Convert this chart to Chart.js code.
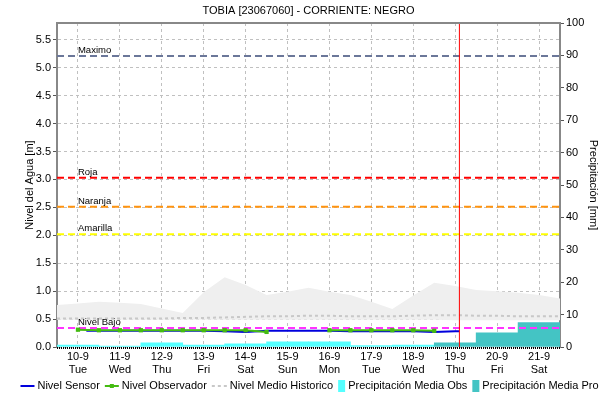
<!DOCTYPE html>
<html>
<head>
<meta charset="utf-8">
<script src="https://cdn.jsdelivr.net/npm/chart.js@4.4.1/dist/chart.umd.min.js"></script>
<style>
  html, body { margin: 0; padding: 0; background: #fff; }
  canvas { display: block; }
</style>
</head>
<body>
<canvas id="nivelChart" width="611" height="403"></canvas>
<script>
const stationTitle = 'TOBIA [23067060] - CORRIENTE: NEGRO';

// one entry per day, bars are centred on the day tick
const dayLabels = ['10-9', '11-9', '12-9', '13-9', '14-9', '15-9', '16-9', '17-9', '18-9', '19-9', '20-9', '21-9'];
const weekDays = ['Tue', 'Wed', 'Thu', 'Fri', 'Sat', 'Sun', 'Mon', 'Tue', 'Wed', 'Thu', 'Fri', 'Sat'];
const precipObs = [0.6, 0.3, 1.3, 0.6, 1.0, 1.6, 1.6, 0.4, 0.6, null, null, null];
const precipPro = [null, null, null, null, null, null, null, null, null, 1.3, 4.4, 7.5];

// historic band, every half day (x = day index)
const histDays = [-0.5, 0, 0.5, 1, 1.5, 2, 2.5, 3, 3.5, 4, 4.5, 5, 5.5, 6, 6.5, 7, 7.5, 8, 8.5, 9, 9.5, 10, 10.5, 11, 11.5];
const histMax = [0.75, 0.78, 0.81, 0.79, 0.77, 0.69, 0.61, 0.98, 1.25, 1.11, 0.93, 0.99, 1.06, 0.99, 0.93, 0.81, 0.68, 0.92, 1.15, 1.09, 1.02, 1.00, 0.97, 0.93, 0.87];
const histMin = [0.49, 0.49, 0.49, 0.49, 0.49, 0.49, 0.49, 0.49, 0.49, 0.49, 0.49, 0.49, 0.49, 0.49, 0.49, 0.49, 0.49, 0.49, 0.49, 0.48, 0.48, 0.48, 0.48, 0.48, 0.48];
const histMean = [0.51, 0.51, 0.51, 0.51, 0.51, 0.51, 0.52, 0.52, 0.53, 0.54, 0.55, 0.55, 0.56, 0.56, 0.55, 0.55, 0.55, 0.56, 0.57, 0.57, 0.56, 0.56, 0.55, 0.55, 0.55];

// observer readings, twice a day
const obsDays = [0, 0.5, 1, 1.5, 2, 2.5, 3, 3.5, 4, 4.5, 5, 5.5, 6, 6.5, 7, 7.5, 8, 8.5];
const obsLevel = [0.31, 0.30, 0.30, 0.30, 0.30, 0.30, 0.30, 0.30, 0.30, 0.27, null, null, 0.30, 0.30, 0.30, 0.30, 0.30, 0.29];

// sensor readings
const sensorDays = [0.2, 0.5, 1, 1.5, 2, 2.5, 3, 3.5, 4, 4.5, 5, 5.5, 6, 6.5, 7, 7.5, 8, 8.5, 9, 9.1];
const sensorLevel = [0.29, 0.29, 0.29, 0.29, 0.29, 0.29, 0.29, 0.28, 0.27, 0.29, 0.29, 0.29, 0.29, 0.28, 0.28, 0.28, 0.28, 0.27, 0.28, 0.28];

const thresholdNames = ['Maximo', 'Roja', 'Naranja', 'Amarilla', 'Nivel Bajo'];
const thresholdLevels = [5.21, 3.03, 2.51, 2.02, 0.34];
const thresholdColors = ['#6b7799', '#ff0000', '#ff9410', '#ffff00', '#ff33ff'];

const currentDay = 9.1;
const levelMax = 5.8;

const FONT = "'Liberation Sans', Arial, sans-serif";
Chart.defaults.font.family = FONT;
Chart.defaults.font.size = 11;
Chart.defaults.color = '#000';

const xMin = -0.5, xMax = dayLabels.length - 0.5;

function pairs(xs, ys) {
  return xs.map((x, i) => ({ x: x, y: ys[i] }));
}

const datasets = [];

// "now" marker
datasets.push({
  type: 'line', label: 'now', data: [{ x: currentDay, y: 0 }, { x: currentDay, y: levelMax }],
  borderColor: '#ff0000', borderWidth: 1, pointRadius: 0, yAxisID: 'y', xAxisID: 'x'
});
datasets.push({
  type: 'line', label: 'Nivel Observador', data: pairs(obsDays, obsLevel),
  borderColor: '#44bb11', backgroundColor: '#44bb11', borderWidth: 2,
  pointStyle: 'rect', pointRadius: 3, pointBorderWidth: 0, spanGaps: false, yAxisID: 'y', xAxisID: 'x'
});
datasets.push({
  type: 'line', label: 'Nivel Sensor', data: pairs(sensorDays, sensorLevel),
  borderColor: '#0000dd', borderWidth: 2, pointRadius: 0, yAxisID: 'y', xAxisID: 'x'
});
thresholdLevels.forEach((lvl, i) => {
  datasets.push({
    type: 'line', label: thresholdNames[i], data: [{ x: xMin, y: lvl }, { x: xMax, y: lvl }],
    borderColor: thresholdColors[i], borderWidth: 2, borderDash: [7, 4], pointRadius: 0,
    yAxisID: 'y', xAxisID: 'x'
  });
});
datasets.push({
  type: 'bar', label: 'Precipitación Media Pro', data: precipPro,
  backgroundColor: '#44c4c4', barPercentage: 1, categoryPercentage: 1, grouped: false,
  yAxisID: 'y2', xAxisID: 'xb'
});
datasets.push({
  type: 'bar', label: 'Precipitación Media Obs', data: precipObs,
  backgroundColor: '#55ffff', barPercentage: 1, categoryPercentage: 1, grouped: false,
  yAxisID: 'y2', xAxisID: 'xb'
});
datasets.push({
  type: 'line', label: 'Nivel Medio Historico', data: pairs(histDays, histMean),
  borderColor: '#c8c8c8', borderWidth: 2, borderDash: [3, 3], pointRadius: 0,
  yAxisID: 'y', xAxisID: 'x'
});
datasets.push({
  type: 'line', label: 'hist min', data: pairs(histDays, histMin),
  borderColor: 'rgba(0,0,0,0)', borderWidth: 0, pointRadius: 0, yAxisID: 'y', xAxisID: 'x'
});
datasets.push({
  type: 'line', label: 'hist max', data: pairs(histDays, histMax),
  borderColor: 'rgba(0,0,0,0)', borderWidth: 0, pointRadius: 0,
  backgroundColor: '#efefef', fill: '-1', yAxisID: 'y', xAxisID: 'x'
});

const legendItems = [
  { text: 'Nivel Sensor', kind: 'line', color: '#0000dd' },
  { text: 'Nivel Observador', kind: 'marker', color: '#44bb11' },
  { text: 'Nivel Medio Historico', kind: 'dots', color: '#c8c8c8' },
  { text: 'Precipitación Media Obs', kind: 'box', color: '#55ffff' },
  { text: 'Precipitación Media Pro', kind: 'box', color: '#44c4c4' }
];

const decorPlugin = {
  id: 'decor',
  afterDatasetsDraw(chart) {
    const { ctx, chartArea, scales } = chart;
    ctx.save();
    // threshold names above their lines
    ctx.font = '9.5px ' + FONT;
    ctx.fillStyle = '#000';
    ctx.textAlign = 'left';
    ctx.textBaseline = 'bottom';
    thresholdLevels.forEach((lvl, i) => {
      ctx.fillText(thresholdNames[i], scales.x.getPixelForValue(0), scales.y.getPixelForValue(lvl) - 1);
    });
    // frame: top edge and dotted bottom edge
    ctx.strokeStyle = '#888';
    ctx.lineWidth = 2;
    ctx.beginPath();
    ctx.moveTo(chartArea.left - 1, chartArea.top);
    ctx.lineTo(chartArea.right + 1, chartArea.top);
    ctx.stroke();
    ctx.strokeStyle = '#000';
    ctx.setLineDash([1, 1]);
    ctx.beginPath();
    ctx.moveTo(chartArea.left, chartArea.bottom + 1);
    ctx.lineTo(chartArea.right, chartArea.bottom + 1);
    ctx.stroke();
    ctx.restore();
  },
  afterDraw(chart) {
    const { ctx, chartArea, width } = chart;
    ctx.save();
    ctx.font = '11px ' + FONT;
    ctx.fillStyle = '#000';
    ctx.textAlign = 'center';
    ctx.textBaseline = 'middle';
    ctx.fillText(stationTitle, (chartArea.left + chartArea.right) / 2, 11);

    // legend row
    const symW = { line: 14, marker: 14, dots: 15, box: 7 };
    const gap = 5;
    let total = 0;
    legendItems.forEach(it => { total += symW[it.kind] + 3 + ctx.measureText(it.text).width + gap; });
    total -= gap;
    let x = (width - total) / 2 + 4;
    const y = 386;
    ctx.textAlign = 'left';
    legendItems.forEach(it => {
      const w = symW[it.kind];
      ctx.strokeStyle = it.color;
      ctx.fillStyle = it.color;
      if (it.kind === 'box') {
        ctx.fillRect(x, y - 6, w, 12);
      } else {
        ctx.lineWidth = 2;
        ctx.setLineDash(it.kind === 'dots' ? [3, 3] : []);
        ctx.beginPath();
        ctx.moveTo(x, y);
        ctx.lineTo(x + w, y);
        ctx.stroke();
        ctx.setLineDash([]);
        if (it.kind === 'marker') ctx.fillRect(x + w / 2 - 2, y - 2, 4, 4);
      }
      x += w + 3;
      ctx.fillStyle = '#000';
      ctx.fillText(it.text, x, y);
      x += ctx.measureText(it.text).width + gap;
    });
    ctx.restore();
  }
};

new Chart(document.getElementById('nivelChart'), {
  data: { labels: dayLabels, datasets: datasets },
  options: {
    responsive: false,
    animation: false,
    layout: { padding: { top: 23, left: 0, right: 0, bottom: 0 } },
    plugins: { legend: { display: false }, tooltip: { enabled: false }, title: { display: false } },
    scales: {
      x: {
        type: 'linear', position: 'bottom', min: xMin, max: xMax,
        afterFit: s => { s.height = 56; },
        afterBuildTicks: s => { s.ticks = dayLabels.map((_, i) => ({ value: i })); },
        ticks: {
          autoSkip: false, maxRotation: 0, padding: 3,
          callback: v => [dayLabels[v], weekDays[v]]
        },
        grid: { color: '#c0c0c0', lineWidth: 1, drawTicks: false },
        border: { display: false, dash: [3, 3] }
      },
      xb: {
        type: 'category', labels: dayLabels, offset: true, display: false,
        grid: { offset: true }
      },
      y: {
        position: 'left', min: 0, max: levelMax,
        afterFit: s => { s.width = 57; },
        afterBuildTicks: s => { s.ticks = s.ticks.filter(t => Math.abs(t.value * 2 - Math.round(t.value * 2)) < 1e-6); },
        ticks: { stepSize: 0.5, padding: 2, callback: v => v.toFixed(1) },
        grid: { color: '#c0c0c0', lineWidth: 1, tickColor: '#555', tickLength: 4, tickBorderDash: [] },
        border: { color: '#888', width: 2, dash: [3, 3] },
        title: { display: true, text: 'Nivel del Agua [m]', padding: { top: 23, bottom: 0 }, font: { size: 11 } }
      },
      y2: {
        position: 'right', min: 0, max: 100,
        afterFit: s => { s.width = 51; },
        ticks: { stepSize: 10, padding: 2 },
        grid: { drawOnChartArea: false, tickColor: '#555', tickLength: 4 },
        border: { color: '#888', width: 2 },
        title: { display: true, text: 'Precipitación [mm]', padding: { top: 11, bottom: 0 }, font: { size: 11 } }
      }
    }
  },
  plugins: [decorPlugin]
});
</script>
</body>
</html>
